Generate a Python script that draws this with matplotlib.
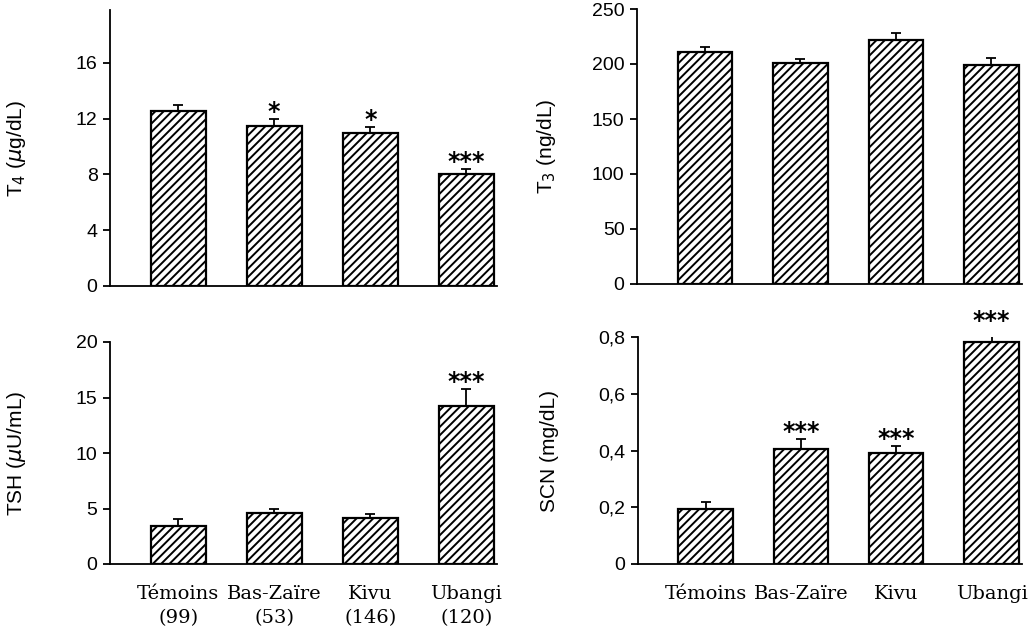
import matplotlib
matplotlib.use("Agg")
import matplotlib.pyplot as plt

categories = ["Témoins", "Bas-Zaïre", "Kivu", "Ubangi"]
n_subjects = ["(99)", "(53)", "(146)", "(120)"]

t4_mean = [12.55, 11.5, 11.0, 8.0]
t4_sem = [0.45, 0.5, 0.4, 0.4]
t4_sig = ["", "*", "*", "***"]

t3_mean = [211, 201, 222, 199]
t3_sem = [4, 3.5, 6, 6]
t3_sig = ["", "", "", ""]

tsh_mean = [3.4, 4.6, 4.1, 14.2]
tsh_sem = [0.65, 0.35, 0.4, 1.6]
tsh_sig = ["", "", "", "***"]

scn_mean = [0.194, 0.405, 0.39, 0.783]
scn_sem = [0.025, 0.035, 0.025, 0.05]
scn_sig = ["", "***", "***", "***"]

t4_ticks = [0, 4, 8, 12, 16]
t3_ticks = [0, 50, 100, 150, 200, 250]
tsh_ticks = [0, 5, 10, 15, 20]
scn_ticks = [0, 0.2, 0.4, 0.6, 0.8]
scn_ticklabels = ["0", "0,2", "0,4", "0,6", "0,8"]

plt.rcParams["hatch.linewidth"] = 1.4
W, H = 1036, 630
fig = plt.figure(figsize=(W / 100, H / 100), dpi=100)

def ax_at(x0, x1, y0, y1):
    return fig.add_axes([x0 / W, 1 - y1 / H, (x1 - x0) / W, (y1 - y0) / H])

num_font = "Liberation Sans"
cat_font = "DejaVu Serif"

def panel(ax, means, sems, sig, ticks, ticklabels, ylim, ylabel, xlabels, lab_x):
    x = list(range(len(means)))
    ax.bar(x, means, width=0.57, color="white", edgecolor="black",
           linewidth=1.6, hatch="////", zorder=2)
    ax.errorbar(x, means, yerr=[[0] * len(means), sems], fmt="none",
                ecolor="black", elinewidth=1.3, capsize=3.3, capthick=1.3, zorder=3)
    for xi, m, s, g in zip(x, means, sems, sig):
        if g:
            ax.annotate(g, (xi, m + s), xytext=(0, 5), textcoords="offset points",
                        ha="center", va="center", fontsize=17, fontweight="bold",
                        family="DejaVu Sans", annotation_clip=False)
    ax.set_xlim(-0.71, 3.32)
    ax.set_ylim(*ylim)
    ax.set_yticks(ticks)
    ax.set_yticklabels(ticklabels, fontsize=14, family=num_font)
    ax.spines["top"].set_visible(False)
    ax.spines["right"].set_visible(False)
    ax.spines["left"].set_linewidth(1.3)
    ax.spines["bottom"].set_linewidth(1.3)
    ax.tick_params(axis="y", direction="out", length=5, width=1.3, pad=4)
    ax.set_ylabel(ylabel, fontsize=15, family=num_font)
    ax.yaxis.set_label_coords(lab_x, 0.5)
    if xlabels:
        ax.set_xticks(x)
        ax.set_xticklabels(xlabels, fontsize=14, family=cat_font, linespacing=1.45)
        ax.tick_params(axis="x", length=0, pad=15)
    else:
        ax.set_xticks([])

ax1 = ax_at(110, 497, 10, 286)
panel(ax1, t4_mean, t4_sem, t4_sig, t4_ticks, [str(t) for t in t4_ticks],
      (0, 19.8), r"T$_4$ ($\mu$g/dL)", None, -0.212)

ax2 = ax_at(637, 1022, 9, 284)
panel(ax2, t3_mean, t3_sem, t3_sig, t3_ticks, [str(t) for t in t3_ticks],
      (0, 250), r"T$_3$ (ng/dL)", None, -0.205)

ax3 = ax_at(110, 497, 342, 564)
panel(ax3, tsh_mean, tsh_sem, tsh_sig, tsh_ticks, [str(t) for t in tsh_ticks],
      (0, 20), r"TSH ($\mu$U/mL)", [f"{c}\n{n}" for c, n in zip(categories, n_subjects)],
      -0.212)

ax4 = ax_at(638, 1022, 337, 564)
panel(ax4, scn_mean, scn_sem, scn_sig, scn_ticks, scn_ticklabels,
      (0, 0.8), "SCN (mg/dL)", categories, -0.206)

fig.savefig("out.png", dpi=100)
